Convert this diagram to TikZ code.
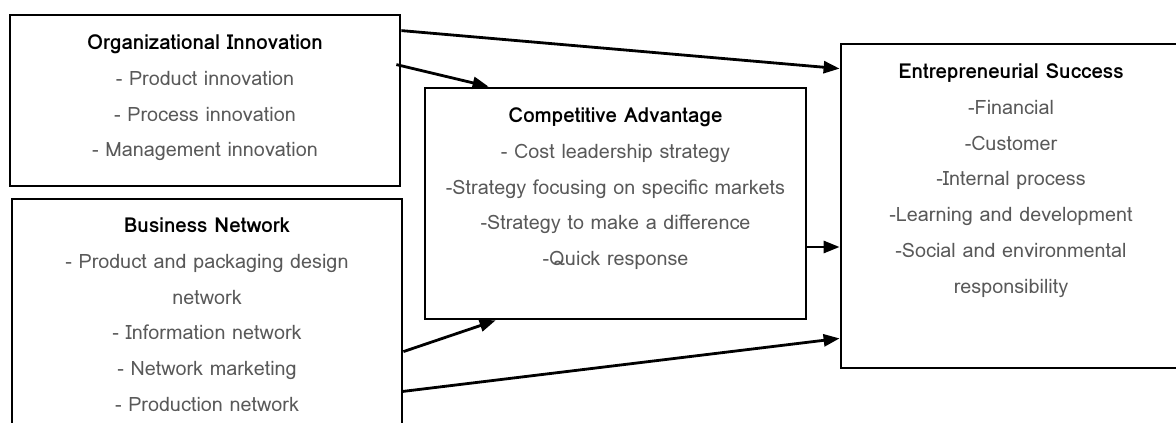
\documentclass[tikz,border=0pt]{standalone}
\usepackage{fontspec}
\setmainfont{Loma}
\usetikzlibrary{arrows.meta}
\begin{document}
\begin{tikzpicture}[x=1pt,y=-1pt,
  box/.style={draw,line width=2.8pt,inner sep=0pt},
  txt/.style={anchor=north,align=center,inner sep=0pt,text=black!65,font=\fontsize{19.8}{35.8}\selectfont},
  arr/.style={line width=2.8pt,-{Triangle[length=16pt,width=12pt]}}]
\useasboundingbox (0,0) rectangle (1176,423);
\clip (0,0) rectangle (1176,423);
\newcommand\hd[1]{{\fontsize{20.6}{35.8}\selectfont\bfseries\color{black}#1}}
\node[box,minimum width=390pt,minimum height=171pt] (orginno) at (205,100.5) {};
\node[box,minimum width=390pt,minimum height=251pt] (busnet) at (207,324.5) {};
\node[box,minimum width=381pt,minimum height=231pt] (compadv) at (615.5,203.5) {};
\node[box,minimum width=340pt,minimum height=324pt] (entsucc) at (1011,206) {};
\node[txt] (orginnotxt) at ([yshift=-21pt]orginno.north) {\hd{Organizational Innovation}\\
  - Product innovation\\- Process innovation\\- Management innovation};
\node[txt] (busnettxt) at ([yshift=-20pt]busnet.north) {\hd{Business Network}\\
  - Product and packaging design\\network\\- Information network\\
  - Network marketing\\- Production network};
\node[txt] (compadvtxt) at ([yshift=-21pt]compadv.north) {\hd{Competitive Advantage}\\
  - Cost leadership strategy\\-Strategy focusing on specific markets\\
  -Strategy to make a difference\\-Quick response};
\node[txt] (entsucctxt) at ([yshift=-21pt]entsucc.north) {\hd{Entrepreneurial Success}\\
  -Financial\\-Customer\\-Internal process\\-Learning and development\\
  -Social and environmental\\responsibility};
\coordinate (ca) at ([yshift=-43.5pt]compadv.east);
\draw[arr] ([yshift=-17pt]orginno.north east) -- ([yshift=-26pt]entsucc.north west);
\draw[arr] ([xshift=-5pt,yshift=-51pt]orginno.north east) -- ([xshift=65pt]compadv.north west);
\draw[arr] (ca) -- (ca -| entsucc.west);
\draw[arr] ([yshift=-154pt]busnet.north east) -- ([xshift=72pt]compadv.south west);
\draw[arr] ([xshift=-2pt,yshift=-194pt]busnet.north east) -- ([yshift=31pt]entsucc.south west);
\end{tikzpicture}
\end{document}
